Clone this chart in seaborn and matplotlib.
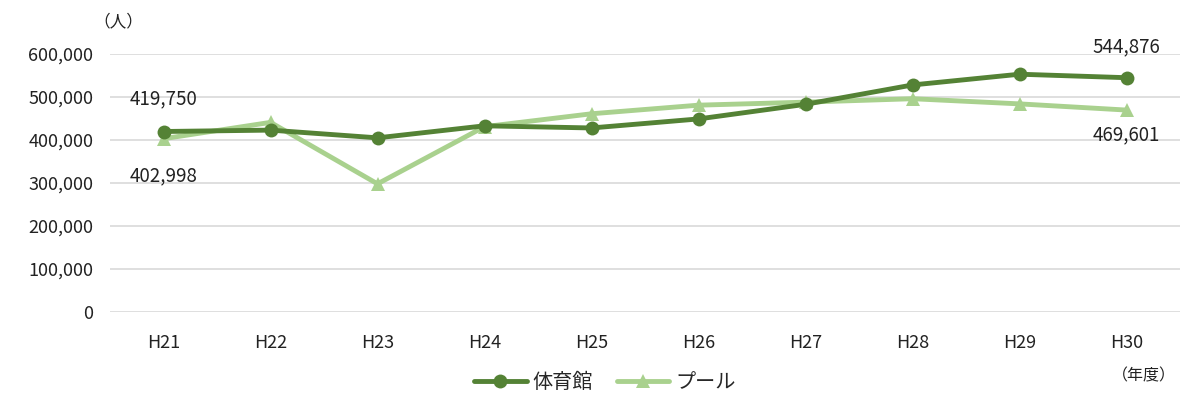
import pandas as pd
import matplotlib
matplotlib.use("Agg")
import matplotlib.pyplot as plt
import seaborn as sns

# データ
years = ["H21", "H22", "H23", "H24", "H25", "H26", "H27", "H28", "H29", "H30"]
gym = [419750, 423000, 405000, 433000, 428000, 449000, 483000, 528000, 553000, 544876]
pool = [402998, 441000, 298000, 431000, 461000, 481000, 488000, 496000, 484000, 469601]
series_names = ["体育館", "プール"]

df = pd.DataFrame({
    "year": years * 2,
    "users": gym + pool,
    "kind": [series_names[0]] * len(years) + [series_names[1]] * len(years),
})

sns.set_theme(style="white")
plt.rcParams["font.family"] = ["Noto Sans CJK JP", "DejaVu Sans"]

colors = {"体育館": "#548235", "プール": "#A9D18E"}
markers = {"体育館": "o", "プール": "^"}

fig = plt.figure(figsize=(11.81, 3.97), dpi=100)
ax = fig.add_axes([110 / 1181, 85 / 397, 1070 / 1181, 258 / 397])

# プールを先に描いて体育館を上に
for name in ["プール", "体育館"]:
    sub = df[df["kind"] == name]
    sns.lineplot(data=sub, x="year", y="users", ax=ax, color=colors[name],
                 marker=markers[name], markersize=10, linewidth=3.5,
                 markeredgewidth=0, label=name, sort=False)

ax.set_xlim(-0.5, 9.5)
ax.set_ylim(0, 600000)
ax.set_yticks(range(0, 600001, 100000))
ax.set_yticklabels([f"{v:,}" for v in range(0, 600001, 100000)], fontsize=13, color="#222222")
ax.tick_params(axis="x", labelsize=13, colors="#222222", pad=10)
ax.tick_params(axis="y", pad=6)
ax.grid(axis="y", color="#d9d9d9", linewidth=1.2)
ax.set_axisbelow(True)
for s in ax.spines.values():
    s.set_visible(False)
ax.set_xlabel("")
ax.set_ylabel("")

# データラベル
ax.annotate(f"{gym[0]:,}", (0, gym[0]), xytext=(0, 16), textcoords="offset points",
            ha="center", va="bottom", fontsize=13.5, color="#222222")
ax.annotate(f"{pool[0]:,}", (0, pool[0]), xytext=(0, -19), textcoords="offset points",
            ha="center", va="top", fontsize=13.5, color="#222222")
ax.annotate(f"{gym[-1]:,}", (9, gym[-1]), xytext=(0, 15), textcoords="offset points",
            ha="center", va="bottom", fontsize=13.5, color="#222222")
ax.annotate(f"{pool[-1]:,}", (9, pool[-1]), xytext=(0, -10), textcoords="offset points",
            ha="center", va="top", fontsize=13.5, color="#222222")

fig.text(93 / 1181, 1 - 22 / 397, "（人）", fontsize=12, va="center", ha="left", color="#222222")
fig.text(1176 / 1181, 1 - 376 / 397, "（年度）", fontsize=11.5, va="center", ha="right", color="#222222")

handles, labels = ax.get_legend_handles_labels()
order = [labels.index("体育館"), labels.index("プール")]
ax.legend([handles[i] for i in order], [labels[i] for i in order],
          loc="center", bbox_to_anchor=(605 / 1181, 1 - 383 / 397),
          bbox_transform=fig.transFigure, ncol=2, frameon=False,
          fontsize=14.5, handlelength=2.6, columnspacing=1.2, handletextpad=0.3)

fig.savefig("out.png", dpi=100)
